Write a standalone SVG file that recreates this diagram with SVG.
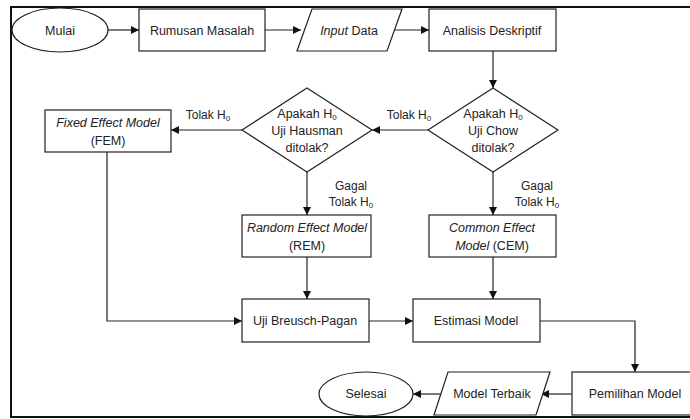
<svg xmlns="http://www.w3.org/2000/svg" width="690" height="419" viewBox="0 0 690 419">
<defs>
<marker id="ah" viewBox="0 0 10 10" refX="10" refY="5" markerWidth="8" markerHeight="8" markerUnits="userSpaceOnUse" orient="auto">
<path d="M0,0 L10,5 L0,10 z" fill="#111"/>
</marker>
<style>
.s{fill:#fff;stroke:#222;stroke-width:1.2}
.t{font-family:"Liberation Sans",Arial,sans-serif;font-size:12.5px;fill:#222;text-anchor:middle}
.l{font-family:"Liberation Sans",Arial,sans-serif;font-size:12px;fill:#222;text-anchor:middle}
.i{font-style:italic}
.c{fill:none;stroke:#222;stroke-width:1.2;marker-end:url(#ah)}
.sub{font-size:8px}
</style>
</defs>
<rect width="690" height="419" fill="#fff"/>
<g id="frame" fill="none" stroke="#111" stroke-width="2">
<path d="M692,7 L11,7 L11,417 L692,417"/>
</g>
<g id="connectors">
<path class="c" d="M108,30 L139,30"/>
<path class="c" d="M265,30 L301,30"/>
<path class="c" d="M395,30 L429,30"/>
<path class="c" d="M493,51 L493,88"/>
<path class="c" d="M428,130 L372,130"/>
<path class="c" d="M242,130 L171,130"/>
<path class="c" d="M307,172 L307,215"/>
<path class="c" d="M493,172 L493,215"/>
<path class="c" d="M107,152 L107,321 L242,321"/>
<path class="c" d="M307,257 L307,299"/>
<path class="c" d="M493,257 L493,299"/>
<path class="c" d="M369,321 L413,321"/>
<path class="c" d="M540,321 L635,321 L635,372"/>
<path class="c" d="M572,394 L541,394"/>
<path class="c" d="M441,394 L413,394"/>
<text class="l" x="409" y="119">Tolak H<tspan class="sub" dy="2">0</tspan></text>
<text class="l" x="208" y="119">Tolak H<tspan class="sub" dy="2">0</tspan></text>
<text class="l" x="351" y="190">Gagal</text>
<text class="l" x="351" y="206">Tolak H<tspan class="sub" dy="2">0</tspan></text>
<text class="l" x="537" y="190">Gagal</text>
<text class="l" x="537" y="206">Tolak H<tspan class="sub" dy="2">0</tspan></text>
</g>
<g id="mulai"><ellipse class="s" cx="60" cy="30" rx="48" ry="22"/><text class="t" x="60" y="34.5">Mulai</text></g>
<g id="rumusan"><rect class="s" x="139" y="9" width="126" height="42"/><text class="t" x="202" y="34.5">Rumusan Masalah</text></g>
<g id="input"><path class="s" d="M312,9 L402,9 L387,51 L297,51 z"/><text class="t" x="349" y="34.5"><tspan class="i">Input</tspan> Data</text></g>
<g id="analisis"><rect class="s" x="429" y="9" width="127" height="42"/><text class="t" x="492" y="34.5">Analisis Deskriptif</text></g>
<g id="chow"><path class="s" d="M493,88 L558,130 L493,172 L428,130 z"/>
<text class="t" x="493" y="118">Apakah H<tspan class="sub" dy="2">0</tspan></text>
<text class="t" x="493" y="135">Uji Chow</text>
<text class="t" x="493" y="152">ditolak?</text></g>
<g id="hausman"><path class="s" d="M307,88 L372,130 L307,172 L242,130 z"/>
<text class="t" x="307" y="118">Apakah H<tspan class="sub" dy="2">0</tspan></text>
<text class="t" x="307" y="135">Uji Hausman</text>
<text class="t" x="307" y="152">ditolak?</text></g>
<g id="fem"><rect class="s" x="45" y="110" width="126" height="42"/>
<text class="t i" x="108" y="127">Fixed Effect Model</text>
<text class="t" x="108" y="145">(FEM)</text></g>
<g id="rem"><rect class="s" x="242" y="215" width="129" height="42"/>
<text class="t i" x="307" y="232">Random Effect Model</text>
<text class="t" x="307" y="250">(REM)</text></g>
<g id="cem"><rect class="s" x="429" y="215" width="127" height="42"/>
<text class="t i" x="492" y="232">Common Effect</text>
<text class="t" x="492" y="250"><tspan class="i">Model</tspan> (CEM)</text></g>
<g id="breusch"><rect class="s" x="242" y="299" width="127" height="43"/><text class="t" x="305" y="325">Uji Breusch-Pagan</text></g>
<g id="estimasi"><rect class="s" x="413" y="299" width="127" height="43"/><text class="t" x="476" y="325">Estimasi Model</text></g>
<g id="pemilihan"><rect class="s" x="572" y="372" width="126" height="43"/><text class="t" x="635" y="398">Pemilihan Model</text></g>
<g id="terbaik"><path class="s" d="M448,372 L550,372 L536,415 L434,415 z"/><text class="t" x="492" y="398">Model Terbaik</text></g>
<g id="selesai"><ellipse class="s" cx="366" cy="394" rx="47" ry="22"/><text class="t" x="366" y="398">Selesai</text></g>
</svg>
